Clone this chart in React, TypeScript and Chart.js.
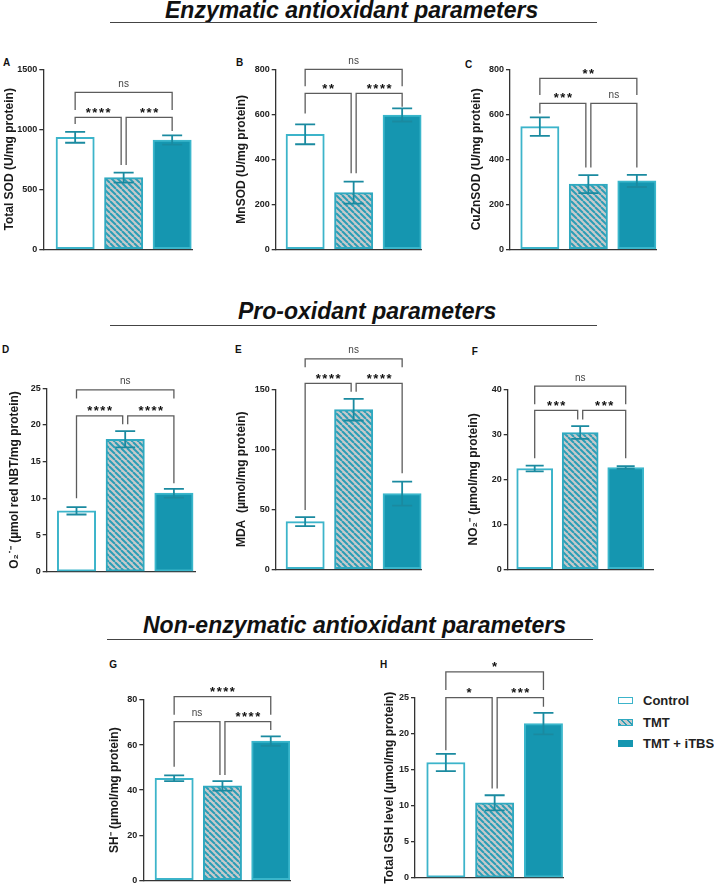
import React, { useEffect, useRef } from 'react';
import { Chart, registerables } from 'chart.js';

Chart.register(...registerables);

const FONT = '"Liberation Sans", Arial, Helvetica, sans-serif';
const TEAL_LIGHT = '#3cb4ca';
const TEAL_FILL = '#1596b0';
const TEAL_STRIPE = '#2a9db6';
const HATCH_BG = '#c7cacb';
const ERR = '#1a8aa0';
const AXIS = '#333333';
const BRACKET = '#5c5c5c';

// ---- data ----
const groups = ['Control', 'TMT', 'TMT + iTBS'];

const totalSod = [933, 597, 911];
const totalSodSem = [45, 42, 39];
const mnSod = [511, 252, 597];
const mnSodSem = [44, 49, 29];
const cuZnSod = [545, 290, 304];
const cuZnSodSem = [41, 40, 27];
const superoxide = [8.3, 18.05, 10.7];
const superoxideSem = [0.5, 1.1, 0.6];
const mda = [39.7, 133, 63];
const mdaSem = [3.7, 9, 10];
const nitrite = [22.4, 30.4, 22.6];
const nitriteSem = [0.65, 1.4, 0.3];
const thiols = [45.3, 41.9, 61.8];
const thiolsSem = [1.3, 2.1, 2.1];
const gsh = [16.0, 10.4, 21.4];
const gshSem = [1.2, 1.05, 1.5];

// significance brackets: [fromBar, toBar, level, fromLegEnd, toLegEnd, label]
type Bracket = [number, number, number, number, number, string];
const totalSodSig: Bracket[] = [[0, 2, 1308, 1160, 1160, 'ns'], [0, 1, 1100, 1044, 702, '****'], [1, 2, 1100, 702, 986, '***']];
const mnSodSig: Bracket[] = [[0, 2, 800, 725, 725, 'ns'], [0, 1, 693, 604, 338, '**'], [1, 2, 693, 338, 634, '****']];
const cuZnSodSig: Bracket[] = [[0, 2, 760, 686, 686, '**'], [0, 1, 649, 604, 364, '***'], [1, 2, 649, 364, 364, 'ns']];
const superoxideSig: Bracket[] = [[0, 2, 24.78, 23.6, 23.6, 'ns'], [0, 1, 21.23, 10.0, 20.1, '****'], [1, 2, 21.23, 20.1, 12.05, '****']];
const mdaSig: Bracket[] = [[0, 2, 175.3, 168.3, 168.3, 'ns'], [0, 1, 155, 49.4, 148, '****'], [1, 2, 155, 148, 80, '****']];
const nitriteSig: Bracket[] = [[0, 2, 40.7, 36.7, 36.7, 'ns'], [0, 1, 35.3, 24.7, 33.3, '***'], [1, 2, 35.3, 33.3, 24.7, '***']];
const thiolsSig: Bracket[] = [[0, 2, 81.5, 73.4, 73.4, '****'], [0, 1, 70.4, 50.4, 46.7, 'ns'], [1, 2, 70.4, 46.7, 66.7, '****']];
const gshSig: Bracket[] = [[0, 2, 28.6, 26.07, 26.07, '*'], [0, 1, 25.0, 17.7, 12.4, '*'], [1, 2, 25.0, 12.4, 23.75, '***']];

const sectionTitles = ['Enzymatic antioxidant parameters', 'Pro-oxidant parameters', 'Non-enzymatic antioxidant parameters'];

// ---- layout ----
type Geo = {
  axisX: number; axisTop: number; axisBottom: number; axisRight: number;
  barLeft: number; barWidth: number; barStep: number; titleDist: number; cap: number;
  labelX: number; labelY: number;
};
interface PanelDef {
  letter: string; yTitle: string; values: number[]; sem: number[]; sig: Bracket[];
  yMax: number; yStep: number; g: Geo;
}

const panels: PanelDef[] = [
  { letter: 'A', yTitle: 'Total SOD (U/mg protein)', values: totalSod, sem: totalSodSem, sig: totalSodSig, yMax: 1500, yStep: 500,
    g: { axisX: 43.3, axisTop: 69.3, axisBottom: 249.3, axisRight: 192, barLeft: 56, barWidth: 38.3, barStep: 48.5, titleDist: 33.3, cap: 10, labelX: 3, labelY: 59.5 } },
  { letter: 'B', yTitle: 'MnSOD (U/mg protein)', values: mnSod, sem: mnSodSem, sig: mnSodSig, yMax: 800, yStep: 200,
    g: { axisX: 275.7, axisTop: 69.3, axisBottom: 249.3, axisRight: 421.7, barLeft: 286, barWidth: 38.3, barStep: 48.5, titleDist: 34, cap: 10, labelX: 236, labelY: 59.5 } },
  { letter: 'C', yTitle: 'CuZnSOD (U/mg protein)', values: cuZnSod, sem: cuZnSodSem, sig: cuZnSodSig, yMax: 800, yStep: 200,
    g: { axisX: 510, axisTop: 69.3, axisBottom: 249.3, axisRight: 656.7, barLeft: 520.7, barWidth: 38.3, barStep: 48.5, titleDist: 33.3, cap: 10, labelX: 465, labelY: 61.5 } },
  { letter: 'D', yTitle: 'O\u2082\u02D9\u207B (\u00B5mol red NBT/mg protein)', values: superoxide, sem: superoxideSem, sig: superoxideSig, yMax: 25, yStep: 5,
    g: { axisX: 46.7, axisTop: 388.3, axisBottom: 571.7, axisRight: 195, barLeft: 57.3, barWidth: 38.4, barStep: 48.7, titleDist: 31.7, cap: 10, labelX: 2, labelY: 346.7 } },
  { letter: 'E', yTitle: 'MDA  (\u00B5mol/mg protein)', values: mda, sem: mdaSem, sig: mdaSig, yMax: 150, yStep: 50,
    g: { axisX: 275.7, axisTop: 389.3, axisBottom: 569.3, axisRight: 421.7, barLeft: 286, barWidth: 38.3, barStep: 48.5, titleDist: 34, cap: 10, labelX: 235, labelY: 346.7 } },
  { letter: 'F', yTitle: 'NO\u2082\u207B (\u00B5mol/mg protein)', values: nitrite, sem: nitriteSem, sig: nitriteSig, yMax: 40, yStep: 10,
    g: { axisX: 507.7, axisTop: 389.3, axisBottom: 569.3, axisRight: 653, barLeft: 516.7, barWidth: 36, barStep: 45.5, titleDist: 34.4, cap: 9, labelX: 471.7, labelY: 348.3 } },
  { letter: 'G', yTitle: 'SH\u207B (\u00B5mol/mg protein)', values: thiols, sem: thiolsSem, sig: thiolsSig, yMax: 80, yStep: 20,
    g: { axisX: 143.3, axisTop: 700, axisBottom: 880.3, axisRight: 290, barLeft: 155, barWidth: 38.3, barStep: 48.3, titleDist: 28.3, cap: 10, labelX: 109.3, labelY: 661.7 } },
  { letter: 'H', yTitle: 'Total GSH level (\u00B5mol/mg protein)', values: gsh, sem: gshSem, sig: gshSig, yMax: 25, yStep: 5,
    g: { axisX: 415, axisTop: 697.7, axisBottom: 877.7, axisRight: 563.3, barLeft: 426.7, barWidth: 38.3, barStep: 48.8, titleDist: 25, cap: 10, labelX: 380, labelY: 661.7 } },
];

const TITLE_SIZE = 12;
const TOP_ROOM = 48;

function makeHatch(ctx: CanvasRenderingContext2D): CanvasPattern | string {
  const c = document.createElement('canvas');
  c.width = 6; c.height = 6;
  const g = c.getContext('2d');
  if (!g) return TEAL_STRIPE;
  g.fillStyle = HATCH_BG;
  g.fillRect(0, 0, 6, 6);
  g.strokeStyle = TEAL_STRIPE;
  g.lineWidth = 2;
  for (const o of [-6, 0, 6]) {
    g.beginPath();
    g.moveTo(o, 0);
    g.lineTo(o + 6, 6);
    g.stroke();
  }
  return ctx.createPattern(c, 'repeat') || TEAL_STRIPE;
}

function panelBox(p: PanelDef) {
  const g = p.g;
  const yWidth = g.titleDist + (TITLE_SIZE * 1.2) / 2;
  const left = Math.floor(g.axisX - yWidth);
  const top = Math.floor(g.axisTop - TOP_ROOM);
  const width = Math.ceil(g.axisRight + 6) - left;
  const height = Math.ceil(g.axisBottom + 8) - top;
  return { yWidth, left, top, width, height };
}

function Panel({ p }: { p: PanelDef }) {
  const ref = useRef<HTMLCanvasElement>(null);
  const box = panelBox(p);
  useEffect(() => {
    const canvas = ref.current;
    if (!canvas) return;
    const ctx0 = canvas.getContext('2d') as CanvasRenderingContext2D;
    const hatch = makeHatch(ctx0);
    const g = p.g;
    const c0 = g.barLeft + g.barWidth / 2;
    const xMin = (g.axisX - c0) / g.barStep;
    const xMax = (g.axisRight - c0) / g.barStep;

    const overlay = {
      id: 'overlay' + p.letter,
      afterDatasetsDraw(chart: any) {
        const ctx = chart.ctx as CanvasRenderingContext2D;
        const xs = chart.scales.x;
        const ys = chart.scales.y;
        ctx.save();
        ctx.strokeStyle = ERR;
        ctx.lineWidth = 1.8;
        p.values.forEach((v, i) => {
          const x = xs.getPixelForValue(i);
          const t = ys.getPixelForValue(v + p.sem[i]);
          const b = ys.getPixelForValue(v - p.sem[i]);
          ctx.beginPath();
          ctx.moveTo(x, t); ctx.lineTo(x, b);
          ctx.moveTo(x - g.cap, t); ctx.lineTo(x + g.cap, t);
          ctx.moveTo(x - g.cap, b); ctx.lineTo(x + g.cap, b);
          ctx.stroke();
        });
        ctx.restore();
      },
      afterDraw(chart: any) {
        const ctx = chart.ctx as CanvasRenderingContext2D;
        const xs = chart.scales.x;
        const ys = chart.scales.y;
        ctx.save();
        ctx.strokeStyle = BRACKET;
        ctx.lineWidth = 1.3;
        p.sig.forEach(([a, b, lvl, ea, eb, label]) => {
          const xa = xs.getPixelForValue(a) + (a === 1 ? 2.5 : 0);
          const xb = xs.getPixelForValue(b) - (b === 1 ? 2.5 : 0);
          const y = ys.getPixelForValue(lvl);
          ctx.beginPath();
          ctx.moveTo(xa, ys.getPixelForValue(ea));
          ctx.lineTo(xa, y);
          ctx.lineTo(xb, y);
          ctx.lineTo(xb, ys.getPixelForValue(eb));
          ctx.stroke();
          const cx = (xa + xb) / 2;
          ctx.textAlign = 'center';
          ctx.textBaseline = 'alphabetic';
          if (label === 'ns') {
            ctx.font = `10px ${FONT}`;
            ctx.fillStyle = '#444444';
            (ctx as any).letterSpacing = '0px';
            ctx.fillText(label, cx, y - 5.5);
          } else {
            ctx.font = `bold 13px ${FONT}`;
            ctx.fillStyle = '#111111';
            (ctx as any).letterSpacing = '1.5px';
            ctx.fillText(label, cx + 0.75, y - 0.8);
            (ctx as any).letterSpacing = '0px';
          }
        });
        ctx.restore();
      },
    };

    const chart = new Chart(canvas, {
      type: 'bar',
      data: {
        labels: groups,
        datasets: [{
          label: p.letter,
          data: p.values.map((v, i) => ({ x: i, y: v })),
          backgroundColor: ['#ffffff', hatch as any, TEAL_FILL],
          borderColor: [TEAL_LIGHT, '#2fa9c0', '#3ab6cb'],
          borderWidth: 2,
          borderSkipped: false,
          barThickness: g.barWidth,
        } as any],
      },
      options: {
        animation: false,
        responsive: false,
        devicePixelRatio: 1,
        events: [],
        layout: {
          autoPadding: false,
          padding: {
            left: g.axisX - box.yWidth - box.left,
            top: g.axisTop - box.top,
            right: box.left + box.width - g.axisRight,
            bottom: box.top + box.height - g.axisBottom,
          },
        },
        plugins: { legend: { display: false }, tooltip: { enabled: false } },
        scales: {
          x: {
            type: 'linear',
            offset: false,
            min: xMin,
            max: xMax,
            ticks: { display: false, stepSize: 1, includeBounds: false },
            grid: { display: false, drawTicks: false, offset: false },
            border: { display: true, color: AXIS, width: 1.3 },
            afterFit: (s: any) => { s.height = 0; },
          },
          y: {
            min: 0,
            max: p.yMax,
            ticks: {
              stepSize: p.yStep,
              padding: 2,
              color: '#222222',
              font: { family: FONT, size: 9, weight: 'bold' },
              callback: (v: any) => String(v),
            },
            grid: { display: true, drawOnChartArea: false, drawTicks: true, tickLength: 4, color: AXIS, lineWidth: 1.3 },
            border: { display: true, color: AXIS, width: 1.3 },
            title: {
              display: true,
              text: p.yTitle,
              color: '#1a1a1a',
              padding: 0,
              font: { family: FONT, size: TITLE_SIZE, weight: 'bold' },
            },
            afterFit: (s: any) => { s.width = box.yWidth; },
          },
        },
      } as any,
      plugins: [overlay],
    });
    return () => chart.destroy();
  }, []);
  return (
    <canvas
      ref={ref}
      width={box.width}
      height={box.height}
      style={{ position: 'absolute', left: box.left, top: box.top, width: box.width, height: box.height }}
    />
  );
}

function SectionTitle({ text, left, capTop, lineY, lineX0, lineX1 }: { text: string; left: number; capTop: number; lineY: number; lineX0: number; lineX1: number }) {
  return (
    <>
      <div style={{ position: 'absolute', left, top: capTop - 3, fontSize: 23, lineHeight: '23px', fontWeight: 'bold', fontStyle: 'italic', color: '#111', whiteSpace: 'nowrap' }}>{text}</div>
      <div style={{ position: 'absolute', left: lineX0, top: lineY, width: lineX1 - lineX0, height: 1.3, background: '#444' }} />
    </>
  );
}

const hatchCss = `repeating-linear-gradient(45deg, ${TEAL_STRIPE} 0px, ${TEAL_STRIPE} 2px, ${HATCH_BG} 2px, ${HATCH_BG} 4.3px)`;

export default function App() {
  const legendRows = [
    { text: groups[0], cy: 700.3, style: { background: '#fff', border: `1.5px solid ${TEAL_LIGHT}` } },
    { text: groups[1], cy: 722.3, style: { background: hatchCss, border: `1.5px solid #2fa9c0` } },
    { text: groups[2], cy: 743.3, style: { background: TEAL_FILL, border: `1.5px solid ${TEAL_FILL}` } },
  ];
  return (
    <div style={{ position: 'absolute', left: 0, top: 0, width: 714, height: 885, background: '#ffffff', fontFamily: FONT, overflow: 'hidden' }}>
      <SectionTitle text={sectionTitles[0]} left={165} capTop={1.7} lineY={22} lineX0={110} lineX1={597} />
      <SectionTitle text={sectionTitles[1]} left={238} capTop={303} lineY={325} lineX0={110} lineX1={597} />
      <SectionTitle text={sectionTitles[2]} left={143} capTop={616.7} lineY={639} lineX0={107} lineX1={593} />
      {panels.map((p) => (
        <div key={'l' + p.letter} style={{ position: 'absolute', left: p.g.labelX, top: p.g.labelY - 1.3, fontSize: 10, lineHeight: '10px', fontWeight: 'bold', color: '#111' }}>{p.letter}</div>
      ))}
      {panels.map((p) => <Panel key={p.letter} p={p} />)}
      {legendRows.map((r) => (
        <React.Fragment key={r.text}>
          <div style={{ position: 'absolute', left: 618, top: r.cy - 3.5, width: 15, height: 7, boxSizing: 'border-box', ...r.style }} />
          <div style={{ position: 'absolute', left: 643, top: r.cy - 6.4, fontSize: 13, lineHeight: '13px', fontWeight: 'bold', color: '#222', whiteSpace: 'nowrap' }}>{r.text}</div>
        </React.Fragment>
      ))}
    </div>
  );
}
